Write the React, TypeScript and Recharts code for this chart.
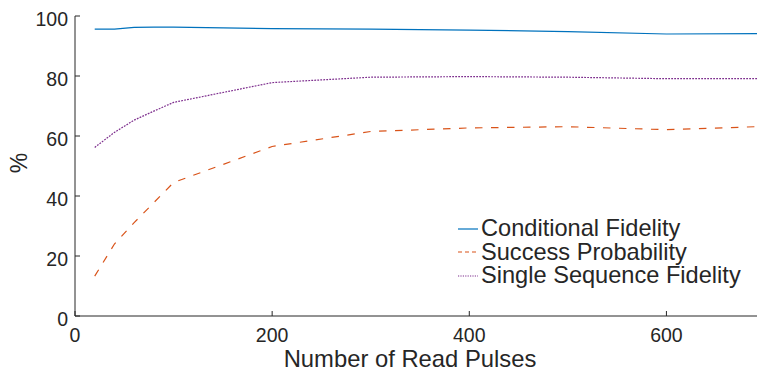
import React from 'react';
import { LineChart, Line, XAxis, YAxis } from 'recharts';

const readPulses = [20, 40, 60, 80, 100, 200, 300, 400, 500, 600, 700];
const conditionalFidelity = [95.6, 95.6, 96.2, 96.3, 96.3, 95.8, 95.6, 95.3, 94.8, 94.0, 94.1];
const successProbability = [13.3, 24.0, 31.1, 37.8, 44.5, 56.5, 61.5, 62.7, 63.1, 62.1, 63.2];
const singleSequenceFidelity = [56.2, 61.2, 65.3, 68.3, 71.2, 77.8, 79.6, 79.8, 79.6, 79.1, 79.1];

const xTicks = [0, 200, 400, 600];
const yTicks = [0, 20, 40, 60, 80, 100];

const seriesNames = ['Conditional Fidelity', 'Success Probability', 'Single Sequence Fidelity'];
const seriesKeys = ['cf', 'sp', 'ssf'];
const seriesColors = ['#0072BD', '#D95319', '#7E2F8E'];
const seriesDash = ['', '7.5 8.5', '1.8 1.2'];
const legendDash = ['', '4 3', '1.2 1.2'];

const data = readPulses.map((x, i) => ({
  x,
  cf: conditionalFidelity[i],
  sp: successProbability[i],
  ssf: singleSequenceFidelity[i],
}));

const FONT = '"Liberation Sans", Arial, Helvetica, sans-serif';
const TXT = '#262626';

const XTick = (props: any) => {
  const { x, y, payload } = props;
  return (
    <g>
      <line x1={x} x2={x} y1={y} y2={y - 5} stroke={TXT} strokeWidth={1} />
      <text x={x} y={y + 26} textAnchor="middle" fill={TXT} fontSize={19.5} fontFamily={FONT}>
        {payload.value}
      </text>
    </g>
  );
};

const TopTick = (props: any) => {
  const { x, y } = props;
  return <line x1={x} x2={x} y1={y} y2={y + 5} stroke={TXT} strokeWidth={1} />;
};

const YTick = (props: any) => {
  const { x, y, payload } = props;
  return (
    <g>
      <line x1={x} x2={x + 5} y1={y} y2={y} stroke={TXT} strokeWidth={1} />
      <text x={x - 7} y={y + 9.5} textAnchor="end" fill={TXT} fontSize={19.5} fontFamily={FONT}>
        {payload.value}
      </text>
    </g>
  );
};

const YLabel = () => (
  <text
    x={27}
    y={163}
    transform="rotate(-90, 27, 163)"
    textAnchor="middle"
    fill={TXT}
    fontSize={23}
    fontFamily={FONT}
  >
    %
  </text>
);

const XLabel = () => (
  <text x={410} y={367} textAnchor="middle" fill={TXT} fontSize={23.8} fontFamily={FONT}>
    Number of Read Pulses
  </text>
);

export default function App() {
  return (
    <div
      style={{
        position: 'absolute',
        left: 0,
        top: 0,
        width: 757,
        height: 373,
        overflow: 'hidden',
        background: '#fff',
      }}
    >
      <LineChart width={765} height={373} data={data} margin={{ top: 16, right: 0, bottom: 0, left: 0 }}>
        <XAxis
          dataKey="x"
          type="number"
          domain={[0, 700]}
          ticks={xTicks}
          height={57}
          tickSize={0}
          tickMargin={0}
          tickLine={false}
          axisLine={{ stroke: TXT, strokeWidth: 1 }}
          tick={<XTick />}
          label={<XLabel />}
        />
        <XAxis
          xAxisId="top"
          dataKey="x"
          type="number"
          orientation="top"
          domain={[0, 700]}
          ticks={xTicks}
          height={0}
          tickSize={0}
          tickMargin={0}
          tickLine={false}
          axisLine={{ stroke: TXT, strokeWidth: 1 }}
          tick={<TopTick />}
        />
        <YAxis
          type="number"
          domain={[0, 100]}
          ticks={yTicks}
          width={75}
          tickSize={0}
          tickMargin={0}
          tickLine={false}
          axisLine={{ stroke: TXT, strokeWidth: 1 }}
          tick={<YTick />}
          label={<YLabel />}
        />
        {seriesKeys.map((k, i) => (
          <Line
            key={k}
            type="linear"
            dataKey={k}
            name={seriesNames[i]}
            stroke={seriesColors[i]}
            strokeWidth={1.2}
            strokeDasharray={seriesDash[i] || undefined}
            dot={false}
            activeDot={false}
            isAnimationActive={false}
          />
        ))}
      </LineChart>
      <div
        style={{
          position: 'absolute',
          left: 456,
          top: 217,
          fontFamily: FONT,
          fontSize: 23.6,
          color: TXT,
          lineHeight: '23.5px',
        }}
      >
        {seriesNames.map((n, i) => (
          <div key={n} style={{ display: 'flex', alignItems: 'center', whiteSpace: 'nowrap', height: 23.5 }}>
            <svg width={24} height={10} style={{ marginRight: 1 }}>
              <line
                x1={2}
                x2={22}
                y1={5}
                y2={5}
                stroke={seriesColors[i]}
                strokeWidth={1.2}
                strokeDasharray={legendDash[i] || undefined}
              />
            </svg>
            <span>{n}</span>
          </div>
        ))}
      </div>
    </div>
  );
}
